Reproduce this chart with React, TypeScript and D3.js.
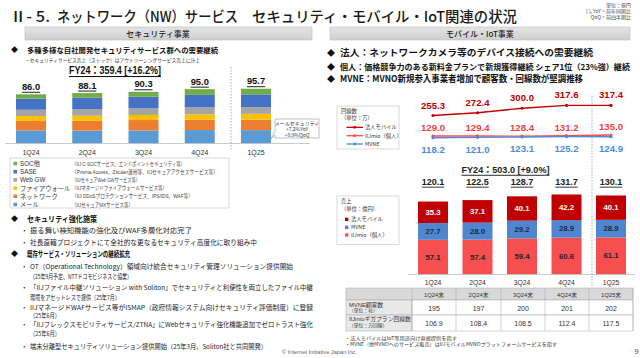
import React from "react";
import * as d3 from "d3";

// セキュリティ事業 (億円)
const secQuarters = ["1Q24", "2Q24", "3Q24", "4Q24", "1Q25"];
const mailSales = [23.0, 22.6, 22.8, 23.5, 23.4];
const networkSales = [16.5, 17.0, 18.2, 18.0, 18.5];
const firewallSales = [8.5, 9.0, 8.8, 9.5, 10.0];
const webgwSales = [11.0, 11.5, 11.5, 12.0, 11.8];
const saseSales = [19.5, 20.0, 20.5, 22.0, 22.2];
const socSales = [7.5, 8.0, 8.5, 10.0, 9.8];
const secTotals = ["86.0", "88.1", "90.3", "95.0", "95.7"];
const secKeys = ["mail", "network", "firewall", "webgw", "sase", "soc"];
const secLegend = [
  { key: "soc", name: "SOC他", desc: "（IIJ C-SOCサービス、エンドポイントセキュリティ等）", w: 113 },
  { key: "sase", name: "SASE", desc: "（Prisma Access、Zscaler運用等、IIJセキュアアクセスサービス等）", w: 146 },
  { key: "webgw", name: "Web GW", desc: "（IIJセキュアWeb GWサービス等）", w: 68 },
  { key: "firewall", name: "ファイアウォール", desc: "（IIJマネージドファイアウォールサービス等）", w: 95 },
  { key: "network", name: "ネットワーク", desc: "（IIJ DDoSプロテクションサービス、IPS/IDS、WAF等）", w: 121 },
  { key: "mail", name: "メール", desc: "（IIJセキュアMXサービス等）", w: 61 },
];

// モバイル・IoT事業
const mobQuarters = ["1Q24", "2Q24", "3Q24", "4Q24", "1Q25"];
const mioSales = [57.1, 57.4, 59.4, 60.6, 61.1];
const mvneSales = [27.7, 28.0, 29.2, 28.9, 28.9];
const corpSales = [35.3, 37.1, 40.1, 42.2, 40.1];
const mobTotals = ["120.1", "122.5", "128.7", "131.7", "130.1"];
const corpLines = [255.3, 272.4, 300.0, 317.6, 317.4];
const mioLines = [129.0, 129.4, 128.4, 131.2, 135.0];
const mvneLines = [118.2, 121.0, 123.1, 125.2, 124.9];
const tableHeads = ["1Q24末", "2Q24末", "3Q24末", "4Q24末", "1Q25末"];
const mvneClients = ["195", "197", "200", "201", "202"];
const gigaLines = ["106.9", "108.4", "108.5", "112.4", "117.5"];

const secColor: Record<string, string> = {
  soc: "#70AD47",
  sase: "#4472C4",
  webgw: "#A5A5A5",
  firewall: "#FFC000",
  network: "#ED7D31",
  mail: "#5B9BD5",
};
const CORP = "#C00000";
const MIO = "#F5504F";
const MVNE = "#4F86CF";
const MVNE_LINE = "#4A8CDB";

const JP = "'Noto Sans CJK JP', sans-serif";
const MIX = "'Liberation Sans', 'Noto Sans CJK JP', sans-serif";

export default function App() {
  // left chart
  const x1 = d3.scalePoint<string>().domain(secQuarters).range([31, 256]);
  const y1 = d3.scaleLinear().domain([0, 100]).range([143.5, 86.3]);
  const secRows = secQuarters.map((q, i) => ({
    q,
    mail: mailSales[i],
    network: networkSales[i],
    firewall: firewallSales[i],
    webgw: webgwSales[i],
    sase: saseSales[i],
    soc: socSales[i],
  }));
  const secStack = d3.stack<any>().keys(secKeys)(secRows);
  const bw1 = 30;

  // right chart
  const x2 = d3.scalePoint<string>().domain(mobQuarters).range([433, 611]);
  const y2 = d3.scaleLinear().domain([0, 140]).range([274.5, 189.45]);
  const yL = d3.scaleLinear().domain([0, 320]).range([157, 105]);
  const mobRows = mobQuarters.map((q, i) => ({ q, mio: mioSales[i], mvne: mvneSales[i], corp: corpSales[i] }));
  const mobStack = d3.stack<any>().keys(["mio", "mvne", "corp"])(mobRows);
  const mobColor: Record<string, string> = { mio: MIO, mvne: MVNE, corp: CORP };
  const mobLabelColor: Record<string, string> = { mio: "#2a1f2f", mvne: "#1f2a44", corp: "#ffffff" };
  const bw2 = 30;
  const line = d3
    .line<number>()
    .x((d, i) => x2(mobQuarters[i])!)
    .y((d) => yL(d));

  const series = [
    { vals: corpLines, color: CORP, off: -10.5, lc: "#C00000" },
    { vals: mioLines, color: "#FF4B4B", off: -8.5, lc: "#F0403F" },
    { vals: mvneLines, color: MVNE_LINE, off: 12, lc: "#4A8CDB" },
  ];

  const colEdges = [412, 456, 501, 545, 589, 633];

  return (
    <svg
      width={640}
      height={358}
      style={{ position: "absolute", left: 0, top: 0, background: "#fff" }}
      fontFamily={MIX}
    >
      <rect width={640} height={358} fill="#fff" />
      {/* title */}
      <g fontFamily={JP} fontSize={14.5} fill="#1a1a1a" fontWeight={500} dominantBaseline="central">
        <text x={10} y={15} textLength={40} lengthAdjust="spacingAndGlyphs">Ⅱ- 5.</text>
        <text x={57} y={15} textLength={181} lengthAdjust="spacingAndGlyphs">ネットワーク（NW）サービス</text>
        <text x={252} y={15} textLength={265} lengthAdjust="spacingAndGlyphs">セキュリティ・モバイル・IoT関連の状況</text>
      </g>
      <g fontFamily={JP} fontSize={5} fill="#444" textAnchor="end" dominantBaseline="central">
        <text x={631} y={4.5}>単位：億円</text>
        <text x={631} y={10.7}>[ ], YoY = 前年同期比</text>
        <text x={631} y={16.7}>QoQ = 前四半期比</text>
      </g>

      {/* section headers */}
      <defs>
        <linearGradient id="hdr" x1="0" y1="0" x2="0" y2="1">
          <stop offset="0" stopColor="#e4e4e4" />
          <stop offset="1" stopColor="#cfcfcf" />
        </linearGradient>
      </defs>
      <rect x={25} y={27} width={287} height={13} fill="url(#hdr)" stroke="#bdbdbd" strokeWidth={0.6} />
      <rect x={330} y={27} width={300} height={13} fill="url(#hdr)" stroke="#bdbdbd" strokeWidth={0.6} />
      <g fontFamily={JP} fontSize={8} fill="#222" textAnchor="middle" dominantBaseline="central" fontWeight={500}>
        <text x={158} y={33.5}>セキュリティ事業</text>
        <text x={480} y={33.5}>モバイル・IoT事業</text>
      </g>

      {/* left bullets */}
      <g fontFamily={JP} fill="#111" dominantBaseline="central">
        <text x={11} y={49} fontSize={7}>◆</text>
        <text x={27} y={49} fontSize={7.4} fontWeight={700} textLength={191} lengthAdjust="spacingAndGlyphs">
          多種多様な自社開発セキュリティサービス群への需要継続
        </text>
        <text x={25} y={59} fontSize={5} fill="#333" textLength={175} lengthAdjust="spacingAndGlyphs">
          ・セキュリティサービス売上（ストック）はアウトソーシングサービス売上に計上
        </text>
      </g>
      <text x={115} y={70} fontSize={10.5} fontWeight={700} fill="#111" textAnchor="middle" dominantBaseline="central"
        textLength={92} lengthAdjust="spacingAndGlyphs" style={{ textDecoration: "underline" }}>
        FY24：359.4 [+16.2%]
      </text>

      {/* left stacked bars */}
      <g>
        {secStack.map((s) => (
          <g key={s.key} fill={secColor[s.key]}>
            {s.map((d, i) => (
              <rect key={i} x={x1(secQuarters[i])! - bw1 / 2} y={y1(d[1])} width={bw1} height={y1(d[0]) - y1(d[1])} />
            ))}
          </g>
        ))}
        {secQuarters.map((q, i) => (
          <text key={q} x={x1(q)} y={y1(secStack[secStack.length - 1][i][1]) - 8} fontSize={9.4} fontWeight={700}
            fill="#111" textAnchor="middle" dominantBaseline="central" style={{ textDecoration: "underline" }}>
            {secTotals[i]}
          </text>
        ))}
        <line x1={5} x2={310} y1={143.5} y2={143.5} stroke="#bfbfbf" strokeWidth={0.8} />
        {secQuarters.map((q) => (
          <text key={q} x={x1(q)} y={152.7} fontSize={7} fill="#333" textAnchor="middle" dominantBaseline="central">{q}</text>
        ))}
        <line x1={231} x2={231} y1={67} y2={150} stroke="#888" strokeWidth={0.7} strokeDasharray="1.5,1.5" />
      </g>

      {/* callout */}
      <path d="M275,119 H319 V138 H275 V135 L271,139 L275,131 Z" fill="#fff" stroke="#999" strokeWidth={0.6} />
      <g fontFamily={JP} fontSize={5} fill="#333" textAnchor="middle" dominantBaseline="central">
        <text x={297} y={122.5}>メールセキュリティ</text>
        <text x={297} y={128.5}>+7.2%YoY</text>
        <text x={297} y={134.5}>+0.9%QoQ</text>
      </g>

      {/* left legend */}
      <rect x={10} y={158} width={219} height={50} fill="#fff" stroke="#bfbfbf" strokeWidth={0.6} />
      {secLegend.map((l, i) => (
        <g key={l.key} dominantBaseline="central">
          <rect x={13.5} y={163.5 + i * 8.2 - 1.8} width={3.6} height={3.6} fill={secColor[l.key]} />
          <text x={20} y={163.5 + i * 8.2} fontSize={6.3} fill="#333" fontFamily={MIX}>{l.name}</text>
          <text x={72} y={163.5 + i * 8.2} fontSize={5.3} fill="#444" textLength={l.w} lengthAdjust="spacingAndGlyphs">{l.desc}</text>
        </g>
      ))}

      {/* left text body */}
      <g fontFamily={JP} fill="#111" dominantBaseline="central">
        <text x={11} y={218} fontSize={7}>◆</text>
        <text x={27} y={218} fontSize={7.5} fontWeight={700} textLength={70} lengthAdjust="spacingAndGlyphs">セキュリティ強化施策</text>
        <g fontSize={6.8} fill="#222">
          <text x={21} y={230}>・</text>
          <text x={30} y={230} textLength={162} lengthAdjust="spacingAndGlyphs">振る舞い検知機能の強化及びWAF多層化対応完了</text>
          <text x={21} y={241.7}>・</text>
          <text x={30} y={241.7} textLength={227} lengthAdjust="spacingAndGlyphs">社長直轄プロジェクトにて全社的な更なるセキュリティ高度化に取り組み中</text>
        </g>
        <text x={11} y={253.3} fontSize={7}>◆</text>
        <text x={27} y={253.3} fontSize={7.5} fontWeight={700} textLength={103} lengthAdjust="spacingAndGlyphs">既存サービス・ソリューションの継続拡充</text>
        <g fontSize={6.5} fill="#222">
          <text x={21} y={266}>・</text>
          <text x={30} y={266} textLength={263} lengthAdjust="spacingAndGlyphs">OT（Operational Technology）領域向け統合セキュリティ管理ソリューション提供開始</text>
          <text x={30} y={275.7} textLength={102} lengthAdjust="spacingAndGlyphs">（25年9月予定、NTTドコモビジネスと協業）</text>
          <text x={21} y={287.3}>・</text>
          <text x={30} y={287.3} textLength={283} lengthAdjust="spacingAndGlyphs">「IIJファイル中継ソリューション with Soliton」でセキュリティと利便性を両立したファイル中継</text>
          <text x={30} y={296.7} textLength={90} lengthAdjust="spacingAndGlyphs">環境をアセットレスで提供（25年7月）</text>
          <text x={21} y={306.7}>・</text>
          <text x={30} y={306.7} textLength={283} lengthAdjust="spacingAndGlyphs">IIJマネージドWAFサービス等がISMAP（政府情報システム向けセキュリティ評価制度）に登録</text>
          <text x={30} y={315.3} textLength={30} lengthAdjust="spacingAndGlyphs">（25年6月）</text>
          <text x={21} y={324.3}>・</text>
          <text x={30} y={324.3} textLength={283} lengthAdjust="spacingAndGlyphs">「IIJフレックスモビリティサービス/ZTNA」にWebセキュリティ強化機能追加でゼロトラスト強化</text>
          <text x={30} y={333.3} textLength={30} lengthAdjust="spacingAndGlyphs">（25年6月）</text>
          <text x={21} y={346}>・</text>
          <text x={30} y={346} textLength={237} lengthAdjust="spacingAndGlyphs">端末分離型セキュリティソリューション提供開始（25年3月、Soliton社と共同開発）</text>
        </g>
      </g>

      {/* right bullets */}
      <g fontFamily={JP} fill="#111" dominantBaseline="central" fontWeight={700}>
        <text x={327} y={52.7} fontSize={8}>◆</text>
        <text x={340} y={52.7} fontSize={9} textLength={253} lengthAdjust="spacingAndGlyphs">法人：ネットワークカメラ等のデバイス接続への需要継続</text>
        <text x={327} y={66.7} fontSize={8}>◆</text>
        <text x={340} y={66.7} fontSize={8} textLength={290} lengthAdjust="spacingAndGlyphs">個人：価格競争力のある新料金プランで新規獲得継続 シェア1位（23%強）継続</text>
        <text x={327} y={78.3} fontSize={8}>◆</text>
        <text x={340} y={78.3} fontSize={9} textLength={243} lengthAdjust="spacingAndGlyphs">MVNE：MVNO新規参入事業者増加で顧客数・回線数が堅調推移</text>
      </g>

      {/* right dashed divider */}
      <line x1={592} x2={592} y1={96} y2={286} stroke="#888" strokeWidth={0.7} strokeDasharray="1.5,1.5" />

      {/* line legend */}
      <rect x={337} y={106} width={62} height={43} fill="#fff" stroke="#bfbfbf" strokeWidth={0.6} />
      <g fontFamily={JP} fontSize={5.3} fill="#333" dominantBaseline="central">
        <text x={341} y={110.7}>回線数</text>
        <text x={341} y={118.3}>（単位：万）</text>
        {[
          { t: "法人モバイル", c: CORP, y: 127.3 },
          { t: "IIJmio（個人）", c: "#FF4B4B", y: 135.7 },
          { t: "MVNE", c: MVNE_LINE, y: 144 },
        ].map((l) => (
          <g key={l.t}>
            <line x1={346.5} x2={363} y1={l.y} y2={l.y} stroke={l.c} strokeWidth={1.3} />
            <circle cx={354.7} cy={l.y} r={1.4} fill={l.c} />
            <text x={365} y={l.y}>{l.t}</text>
          </g>
        ))}
      </g>

      {/* lines */}
      {series.map((s, si) => (
        <g key={si}>
          <path d={line(s.vals)!} fill="none" stroke={s.color} strokeWidth={1.4} />
          {s.vals.map((v, i) => (
            <circle key={i} cx={x2(mobQuarters[i])} cy={yL(v)} r={1.6} fill={s.color} />
          ))}
          {s.vals.map((v, i) => (
            <text key={"t" + i} x={x2(mobQuarters[i])} y={yL(v) + s.off} fontSize={9.6} fontWeight={700} fill={s.lc}
              textAnchor="middle" dominantBaseline="central">
              {v.toFixed(1)}
            </text>
          ))}
        </g>
      ))}

      {/* right totals */}
      <text x={505.5} y={169.3} fontSize={9.5} fontWeight={700} fill="#222" textAnchor="middle" dominantBaseline="central"
        textLength={88} lengthAdjust="spacingAndGlyphs" style={{ textDecoration: "underline" }}>
        FY24：503.0 [+9.0%]
      </text>
      {mobQuarters.map((q, i) => (
        <text key={q} x={x2(q)} y={181.7} fontSize={9} fontWeight={700} fill="#222" textAnchor="middle"
          dominantBaseline="central" style={{ textDecoration: "underline" }}>
          {mobTotals[i]}
        </text>
      ))}

      {/* right stacked bars */}
      {mobStack.map((s) => (
        <g key={s.key}>
          {s.map((d, i) => (
            <g key={i}>
              <rect x={x2(mobQuarters[i])! - bw2 / 2} y={y2(d[1])} width={bw2} height={y2(d[0]) - y2(d[1])}
                fill={mobColor[s.key]} />
              <text x={x2(mobQuarters[i])} y={(y2(d[0]) + y2(d[1])) / 2} fontSize={7.8} fontWeight={700}
                fill={mobLabelColor[s.key]} textAnchor="middle" dominantBaseline="central">
                {(d[1] - d[0]).toFixed(1)}
              </text>
            </g>
          ))}
        </g>
      ))}
      <line x1={408} x2={635} y1={274.5} y2={274.5} stroke="#bfbfbf" strokeWidth={0.8} />
      {mobQuarters.map((q) => (
        <text key={q} x={x2(q)} y={282.3} fontSize={6.8} fill="#333" textAnchor="middle" dominantBaseline="central">{q}</text>
      ))}

      {/* bar legend */}
      <rect x={337} y={196} width={62} height={48.5} fill="#fff" stroke="#bfbfbf" strokeWidth={0.6} />
      <g fontFamily={JP} fontSize={5.3} fill="#333" dominantBaseline="central">
        <text x={341} y={201}>売上</text>
        <text x={341} y={209}>（単位：億円）</text>
        {[
          { t: "法人モバイル", c: CORP, y: 219.3 },
          { t: "MVNE", c: MVNE, y: 227.3 },
          { t: "IIJmio（個人）", c: MIO, y: 235 },
        ].map((l) => (
          <g key={l.t}>
            <rect x={345} y={l.y - 1.7} width={3.4} height={3.4} fill={l.c} />
            <text x={351} y={l.y}>{l.t}</text>
          </g>
        ))}
      </g>

      {/* table */}
      <g stroke="#a6a6a6" strokeWidth={0.5}>
        <rect x={346} y={288} width={287} height={12} fill="#d9d9d9" />
        <rect x={346} y={300} width={66} height={15} fill="#e8e8e8" />
        <rect x={346} y={315} width={66} height={16} fill="#e8e8e8" />
        <rect x={412} y={300} width={221} height={15} fill="#fff" />
        <rect x={412} y={315} width={221} height={16} fill="#fff" />
        {colEdges.map((x) => (
          <line key={x} x1={x} x2={x} y1={288} y2={331} />
        ))}
      </g>
      <g fontFamily={MIX} fill="#333" textAnchor="middle" dominantBaseline="central">
        {tableHeads.map((h, i) => (
          <text key={h} x={(colEdges[i] + colEdges[i + 1]) / 2} y={294.5} fontSize={5.8}>{h}</text>
        ))}
        {mvneClients.map((v, i) => (
          <text key={"c" + i} x={(colEdges[i] + colEdges[i + 1]) / 2} y={308} fontSize={7}>{v}</text>
        ))}
        {gigaLines.map((v, i) => (
          <text key={"g" + i} x={(colEdges[i] + colEdges[i + 1]) / 2} y={323.3} fontSize={7}>{v}</text>
        ))}
      </g>
      <g fontFamily={MIX} fill="#333" dominantBaseline="central">
        <text x={349} y={304.8} fontSize={5.8}>MVNE顧客数</text>
        <text x={349} y={310.7} fontSize={4.8}>（単位：社）</text>
        <text x={349} y={319.3} fontSize={5.8}>IIJmioギガプラン回線数</text>
        <text x={349} y={325.3} fontSize={4.8}>（単位：万回線）</text>
      </g>

      {/* footnotes */}
      <g fontFamily={JP} fontSize={4.8} fill="#333" dominantBaseline="central">
        <text x={345} y={337.7} textLength={112} lengthAdjust="spacingAndGlyphs">・法人モバイルはIoT等用途向け直接提供を指す</text>
        <text x={345} y={343.6} textLength={212} lengthAdjust="spacingAndGlyphs">・MVNE（他MVNOへのサービス販売）はIIJモバイルMVNOプラットフォームサービスを指す</text>
      </g>
      <text x={282} y={351.7} fontSize={5.5} fill="#666" dominantBaseline="central" textLength={75} lengthAdjust="spacingAndGlyphs">
        © Internet Initiative Japan Inc.
      </text>
      <text x={636.5} y={351.7} fontSize={8} fill="#555" textAnchor="middle" dominantBaseline="central">9</text>
    </svg>
  );
}
